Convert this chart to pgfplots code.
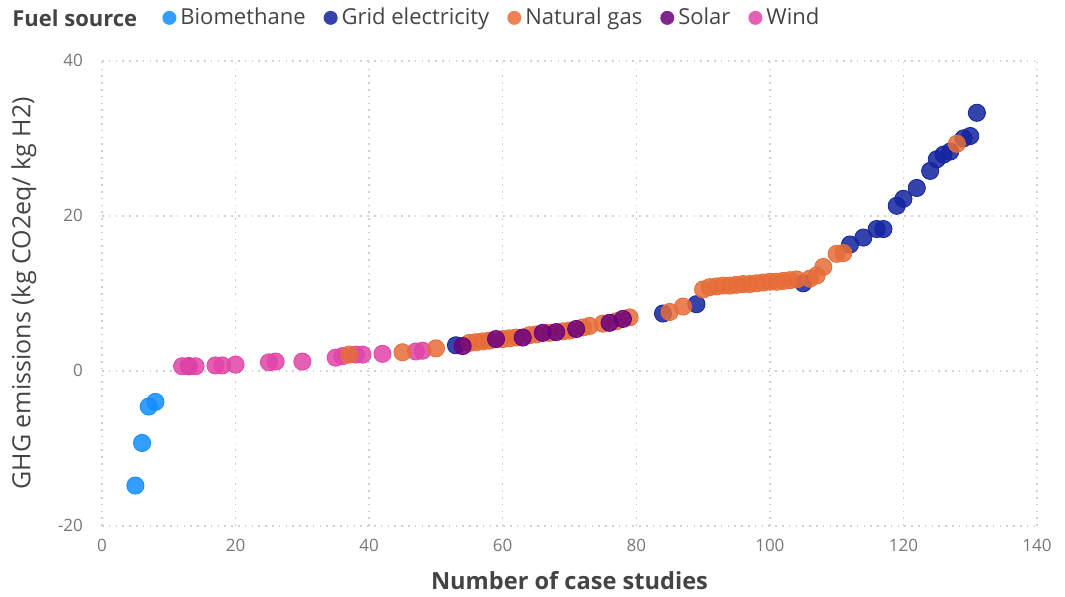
\documentclass[border=0pt]{standalone}
\usepackage{fontspec}
\setmainfont{Open Sans}
\usepackage{pgfplots}
\pgfplotsset{compat=1.18}

\definecolor{cbio}{HTML}{118DFF}
\definecolor{cgrid}{HTML}{12239E}
\definecolor{cgas}{HTML}{E66C37}
\definecolor{csolar}{HTML}{6B007B}
\definecolor{cwind}{HTML}{E044A7}
\definecolor{ticktext}{HTML}{777777}
\definecolor{labeltext}{HTML}{444444}
\definecolor{gridline}{HTML}{CFCFCF}

\pgfplotsset{
  dot/.style={only marks, mark=*, mark size=4.3pt, fill opacity=0.85,
    mark options={draw=none}, color=#1},
}

\begin{document}
\begin{tikzpicture}
\begin{axis}[
  scale only axis,
  width=467.5pt, height=232.5pt,
  xmin=0, xmax=140, ymin=-20, ymax=40,
  xtick={0,20,...,140}, ytick={-20,0,20,40},
  axis line style={draw=none},
  major tick length=0pt,
  grid=major,
  major grid style={gridline, line width=0.7pt, dash pattern=on 0.8pt off 2.6pt},
  /pgf/number format/assume math mode=true,
  tick label style={font=\fontsize{8.5}{10}\selectfont, text=ticktext},
  yticklabel style={xshift=-6pt},
  xticklabel style={yshift=-3pt},
  xlabel={Number of case studies},
  ylabel={GHG emissions (kg CO2eq/ kg H2)},
  every axis x label/.style={at={([yshift=-27.5pt]axis description cs:0.5,0)}, anchor=center,
    font=\fontsize{11.8}{14}\selectfont\bfseries, text=labeltext},
  every axis y label/.style={at={([xshift=-39pt]axis description cs:0,0.5)}, anchor=center, rotate=90,
    font=\fontsize{12.5}{15}\selectfont, text=labeltext},
  legend columns=-1,
  legend image code/.code={\fill[#1,draw=none] (0pt,0pt) circle (3.5pt);},
  legend style={draw=none, fill=none, at={(0,1)}, anchor=west, xshift=27pt, yshift=21.5pt,
    font=\fontsize{11}{13}\selectfont, text=labeltext,
    /tikz/every even column/.append style={column sep=7pt},
    nodes={inner xsep=2pt}},
  clip=false,
]
\addplot[dot=cbio] table {
x y
5 -14.8
6 -9.3
7 -4.6
8 -4.0
};
\addlegendentry{Biomethane}

\addplot[dot=cgrid] table {
x y
53 3.3
84 7.4
89 8.6
105 11.3
112 16.3
114 17.2
116 18.3
117 18.3
119 21.3
120 22.2
122 23.6
124 25.8
125 27.3
126 27.9
127 28.3
129 30.0
130 30.3
131 33.3
};
\addlegendentry{Grid electricity}

% the one solar study among the first wind cases, lying under them
\addplot[dot=csolar, forget plot] table {
x y
13 0.6
};

\addplot[dot=cwind, forget plot] table {
x y
12 0.6
13 0.6
14 0.6
17 0.7
18 0.7
20 0.8
25 1.1
26 1.2
30 1.2
35 1.7
36 1.9
38 2.1
39 2.1
42 2.2
47 2.5
48 2.6
};

\addplot[dot=cgas] table {
x y
37 2.1
45 2.4
50 2.9
55 3.6
56 3.7
57 3.8
58 3.9
60 4.1
61 4.2
62 4.3
64 4.6
65 4.7
67 4.9
69 5.1
70 5.2
72 5.6
73 5.8
75 6.1
77 6.4
79 6.9
85 7.6
87 8.3
90 10.5
91 10.8
92 10.9
93 11.0
94 11.0
95 11.1
96 11.2
97 11.2
98 11.3
99 11.4
100 11.5
101 11.5
102 11.6
103 11.7
104 11.8
106 11.9
107 12.3
108 13.4
110 15.1
111 15.2
128 29.3
};
\addlegendentry{Natural gas}

\addplot[dot=csolar] table {
x y
54 3.2
59 4.1
63 4.3
66 4.9
68 5.0
71 5.4
76 6.2
78 6.7
};
\addlegendentry{Solar}

% legend entry for the wind series, drawn earlier so it sits beneath the others
\addlegendimage{dot=cwind}
\addlegendentry{Wind}

\coordinate (SW) at (rel axis cs:0,0);
\coordinate (NE) at (rel axis cs:1,1);
\coordinate (NW) at (rel axis cs:0,1);
\end{axis}
\node[anchor=west, inner sep=0pt, text=labeltext, font=\fontsize{11}{13}\selectfont\bfseries]
  at ([xshift=-45pt,yshift=21.5pt]NW) {Fuel source};
\path ([xshift=-51pt,yshift=-35pt]SW) rectangle ([xshift=14pt,yshift=30pt]NE);
\end{tikzpicture}
\end{document}
